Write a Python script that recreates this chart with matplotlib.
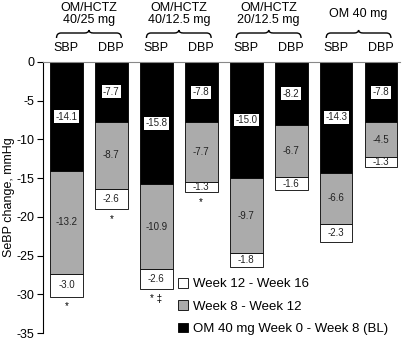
import matplotlib
matplotlib.use('Agg')
import matplotlib.pyplot as plt
import matplotlib.transforms as mtransforms
from matplotlib.patches import Patch
from matplotlib.path import Path
from matplotlib.patches import PathPatch
import numpy as np

plt.rcParams['font.family'] = ['Liberation Sans', 'DejaVu Sans']

groups = ["OM/HCTZ\n40/25 mg", "OM/HCTZ\n40/12.5 mg", "OM/HCTZ\n20/12.5 mg", "OM 40 mg"]
measures = ['SBP', 'DBP', 'SBP', 'DBP', 'SBP', 'DBP', 'SBP', 'DBP']
bl = [-14.1, -7.7, -15.8, -7.8, -15.0, -8.2, -14.3, -7.8]
wk8_12 = [-13.2, -8.7, -10.9, -7.7, -9.7, -6.7, -6.6, -4.5]
wk12_16 = [-3.0, -2.6, -2.6, -1.3, -1.8, -1.6, -2.3, -1.3]
sig = ['*', '*', '* \u2021', '*', '', '', '', '']
yticks = [0, -5, -10, -15, -20, -25, -30, -35]

gray = '#ababab'
fig = plt.figure(figsize=(4.06, 3.40), dpi=100)
ax = fig.add_axes([0.106, 0.02, 0.879, 0.798])

x = np.arange(len(measures))
w = 0.73
bl = np.array(bl)
mid = np.array(wk8_12)
late = np.array(wk12_16)

ax.bar(x, bl, w, color='black', edgecolor='black', linewidth=0.6)
ax.bar(x, mid, w, bottom=bl, color=gray, edgecolor='black', linewidth=0.6)
ax.bar(x, late, w, bottom=bl + mid, color='white', edgecolor='black', linewidth=0.6)

for i in range(len(x)):
    ax.text(x[i], bl[i] / 2, '%.1f' % bl[i], ha='center', va='center', fontsize=7,
            color='#222222',
            bbox=dict(boxstyle='square,pad=0.15', fc='white', ec='none'))
    ax.text(x[i], bl[i] + mid[i] / 2, '%.1f' % mid[i], ha='center', va='center',
            fontsize=7, color='#222222')
    ax.text(x[i], bl[i] + mid[i] + late[i] / 2, '%.1f' % late[i], ha='center',
            va='center', fontsize=7, color='#222222')
    if sig[i]:
        ax.text(x[i], bl[i] + mid[i] + late[i] - 0.6, sig[i], ha='center', va='top',
                fontsize=7)

ax.set_xlim(-0.52, 7.42)
ax.set_ylim(-35, 0)
ax.set_yticks(yticks)
ax.set_yticklabels([str(t) for t in yticks], fontsize=9)
ax.set_xticks([])
ax.set_ylabel('SeBP change, mmHg', fontsize=9, labelpad=1)
ax.spines['right'].set_visible(False)
ax.spines['bottom'].set_visible(False)
ax.spines['top'].set_color('#888888')
ax.spines['top'].set_linewidth(0.8)
ax.spines['left'].set_linewidth(0.8)
ax.tick_params(axis='y', length=4, width=0.8, pad=2)

# group headers, braces and SBP/DBP labels above the axes
trans = mtransforms.blended_transform_factory(ax.transData, fig.transFigure)
def fy(px):
    return 1 - px / 340.0

for g, name in enumerate(groups):
    c = 2 * g + 0.5
    ax.text(c, fy(14), name, transform=trans, ha='center', va='center',
            fontsize=9, linespacing=1.1)
    l, r = c - 0.72, c + 0.72
    y0, y1, y2 = fy(38), fy(33), fy(30)
    verts = [(l, y0), (l, y1), (l + 0.1, y1), (c - 0.1, y1), (c, y1), (c, y2),
             (c, y1), (c + 0.1, y1), (r - 0.1, y1), (r, y1), (r, y0)]
    codes = [Path.MOVETO, Path.CURVE3, Path.CURVE3, Path.LINETO, Path.CURVE3,
             Path.CURVE3, Path.CURVE3, Path.CURVE3, Path.LINETO, Path.CURVE3,
             Path.CURVE3]
    brace = PathPatch(Path(verts, codes), transform=trans, fc='none', ec='black',
                      lw=1.0, clip_on=False)
    fig.add_artist(brace)

for i, m in enumerate(measures):
    ax.text(x[i], fy(48), m, transform=trans, ha='center', va='center', fontsize=9)

handles = [Patch(fc='white', ec='black', lw=0.6),
           Patch(fc=gray, ec='black', lw=0.6),
           Patch(fc='black', ec='black', lw=0.6)]
labels = ['Week 12 - Week 16', 'Week 8 - Week 12', 'OM 40 mg Week 0 - Week 8 (BL)']
fig.legend(handles, labels, loc='upper left', bbox_to_anchor=(178 / 406, fy(278)),
           frameon=False, fontsize=9.5, handlelength=0.75, handleheight=0.75,
           handletextpad=0.35, labelspacing=0.75, borderpad=0, borderaxespad=0)

fig.savefig('out.png', dpi=100)
